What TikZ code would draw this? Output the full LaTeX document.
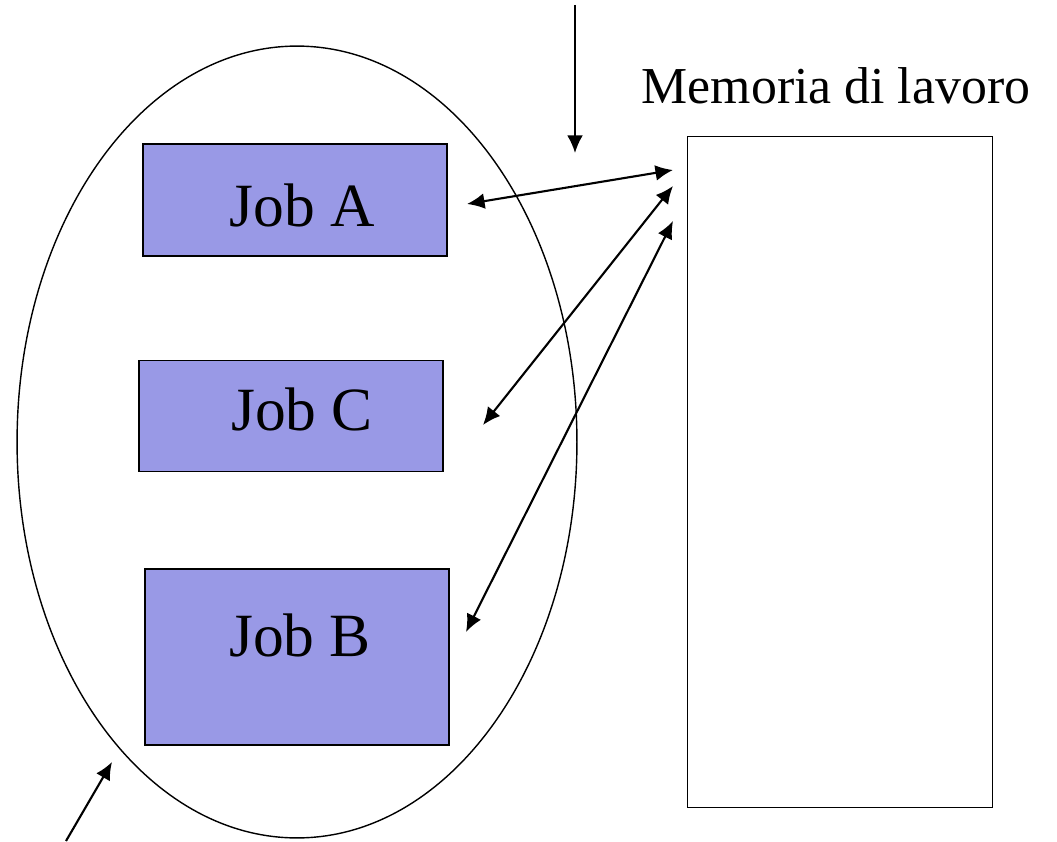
\documentclass[tikz,border=0pt]{standalone}
\usepackage{fontspec}
\setmainfont{Liberation Serif}
\usetikzlibrary{arrows.meta,shapes.geometric}
\definecolor{jobfill}{RGB}{153,153,230}

\begin{document}
\begin{tikzpicture}[x=0.02cm,y=-0.02cm,>={Latex[length=10pt,width=9pt]},
  job/.style={draw,fill=jobfill,line width=0.9pt,inner sep=0pt,minimum width=6.08cm,minimum height=2.24cm},
  jobtext/.style={font=\fontsize{35}{42}\selectfont,inner sep=0pt},
  link/.style={<->,line width=1.2pt},
  feed/.style={->,line width=1.2pt}]
  \useasboundingbox (0,0) rectangle (1057,841);
  \node[ellipse,draw,line width=0.8pt,minimum width=11.2cm,minimum height=15.84cm] (pool) at (297,442) {};
  \node[job,label={[jobtext,xshift=0.14cm,yshift=-0.1cm]center:Job A}] (jobA) at (295,200) {};
  \node[job,minimum height=2.22cm,label={[jobtext,xshift=0.22cm,yshift=0.13cm]center:Job C}] (jobC) at (291,416) {};
  \node[job,minimum height=3.52cm,label={[jobtext,xshift=0.06cm,yshift=0.44cm]center:Job B}] (jobB) at (297,657) {};
  \node[draw,line width=0.9pt,minimum width=6.1cm,minimum height=13.42cm] (mem) at (840,472) {};
  \node[font=\fontsize{29.5}{35}\selectfont] (memlabel) at (836,86) {Memoria di lavoro};
  % free ends of the arrows
  \coordinate (in) at (575,5);
  \coordinate (inend) at (575,153);
  \coordinate (out) at (66,841);
  \coordinate (outend) at (112,762);
  \coordinate (a1) at (467,204);
  \coordinate (a2) at (673,170);
  \coordinate (c1) at (483,425);
  \coordinate (c2) at (673,186);
  \coordinate (b1) at (466,632);
  \coordinate (b2) at (673,221);
  \draw[feed] (in) -- (inend);
  \draw[feed] (out) -- (outend);
  \draw[link] (a1) -- (a2);
  \draw[link] (c1) -- (c2);
  \draw[link] (b1) -- (b2);
\end{tikzpicture}
\end{document}
